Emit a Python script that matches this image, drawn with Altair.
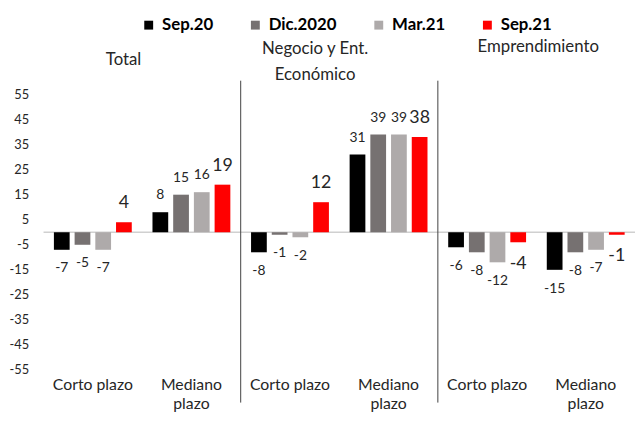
import altair as alt
import pandas as pd

panels = ["Total", "Negocio y Ent. Económico", "Emprendimiento"]
terms = ["Corto plazo", "Mediano plazo"]
series = ["Sep.20", "Dic.2020", "Mar.21", "Sep.21"]
colors = ["#000000", "#767171", "#AEAAAA", "#FF0000"]

# values in order: Total corto, Total mediano, Negocio corto, Negocio mediano, Empr. corto, Empr. mediano
sep20 = [-7, 8, -8, 31, -6, -15]
dic20 = [-5, 15, -1, 39, -8, -8]
mar21 = [-7, 16, -2, 39, -12, -7]
sep21 = [4, 19, 12, 38, -4, -1]

y_ticks = [55, 45, 35, 25, 15, 5, -5, -15, -25, -35, -45, -55]

keys = [f"{p}|{t}" for p in panels for t in terms]
rows = []
for s, vals in zip(series, [sep20, dic20, mar21, sep21]):
    for k, v in zip(keys, vals):
        rows.append({"key": k, "series": s, "value": v, "label": str(v)})
df = pd.DataFrame(rows)

FONT = "Lato"
TXT = "#262626"

x_enc = alt.X(
    "key:N",
    sort=keys,
    scale=alt.Scale(paddingInner=0, paddingOuter=0),
    axis=alt.Axis(
        title=None,
        labelAngle=0,
        domain=False,
        ticks=False,
        labelFontSize=16,
        labelColor=TXT,
        labelPadding=7,
        labelLineHeight=19,
        labelExpr="split(datum.label, '|')[1] == 'Mediano plazo' ? ['Mediano', 'plazo'] : split(datum.label, '|')[1]",
    ),
)
xoff = alt.XOffset("series:N", sort=series, scale=alt.Scale(paddingInner=0.24, paddingOuter=0.5))
y_scale = alt.Scale(domain=[-55, 55], nice=False, zero=False)
y_axis = alt.Axis(
    title=None,
    values=y_ticks,
    domain=False,
    ticks=False,
    grid=False,
    labelFontSize=13,
    labelColor=TXT,
    labelPadding=15,
    labelOverlap=False,
    labelBound=False,
    labelExpr="'' + datum.value",
)


def y_of(field):
    return alt.Y(f"{field}:Q", scale=y_scale, axis=y_axis)


y_enc = y_of("value")
color_enc = alt.Color(
    "series:N",
    sort=series,
    scale=alt.Scale(domain=series, range=colors),
    legend=alt.Legend(
        title=None,
        orient="none",
        legendX=98,
        legendY=-79,
        direction="horizontal",
        symbolType="square",
        symbolSize=81,
        symbolStrokeWidth=0,
        labelFontSize=17,
        labelFontWeight="bold",
        labelColor="#000000",
        labelOffset=5,
        columnPadding=34,
        padding=0,
    ),
)

base = alt.Chart(df)

bars = base.mark_bar().encode(x=x_enc, xOffset=xoff, y=y_enc, color=color_enc)

zero = alt.Chart(pd.DataFrame({"z": [0]})).mark_rule(color="#D0D0D0", strokeWidth=1.5).encode(
    y=y_of("z")
)

def labels(cond, size, dy):
    return base.transform_filter(cond).mark_text(
        fontSize=size, dy=dy, baseline="middle", color=TXT
    ).encode(x=x_enc, xOffset=xoff, y=y_enc, text=alt.Text("label:N"))

lab_pos_small = labels("datum.value >= 0 && datum.series != 'Sep.21'", 14, -17)
lab_pos_big = labels("datum.value >= 0 && datum.series == 'Sep.21'", 18, -19)
lab_neg_small = labels("datum.value < 0 && datum.series != 'Sep.21'", 14, 19)
lab_neg_big = labels("datum.value < 0 && datum.series == 'Sep.21'", 18, 22)

sep_df = pd.DataFrame({"key": [keys[2], keys[4]]})
seps = alt.Chart(sep_df).mark_rule(color="#404040", strokeWidth=1).encode(
    x=alt.X("key:N", sort=keys, bandPosition=0),
    y=alt.value(-14),
    y2=alt.value(312),
)

def title(txt, x, y):
    return alt.Chart(pd.DataFrame({"t": [txt]})).mark_text(
        fontSize=17, color=TXT, align="center", baseline="middle"
    ).encode(text="t:N", x=alt.value(x), y=alt.value(y))

titles = (
    title("Total", 81, -35)
    + title("Negocio y Ent.", 275, -46)
    + title("Económico", 275, -20)
    + title("Emprendimiento", 501, -48)
)

chart = alt.layer(
    zero, bars, lab_pos_small, lab_pos_big, lab_neg_small, lab_neg_big, seps, titles
).properties(
    width=599,
    height=279,
    autosize=alt.AutoSizeParams(type="none"),
    padding={"left": 36, "top": 85, "right": 0, "bottom": 46},
).configure(font=FONT).configure_view(stroke=None)

chart.save("out.html", embed_options={"renderer": "svg", "actions": False})
